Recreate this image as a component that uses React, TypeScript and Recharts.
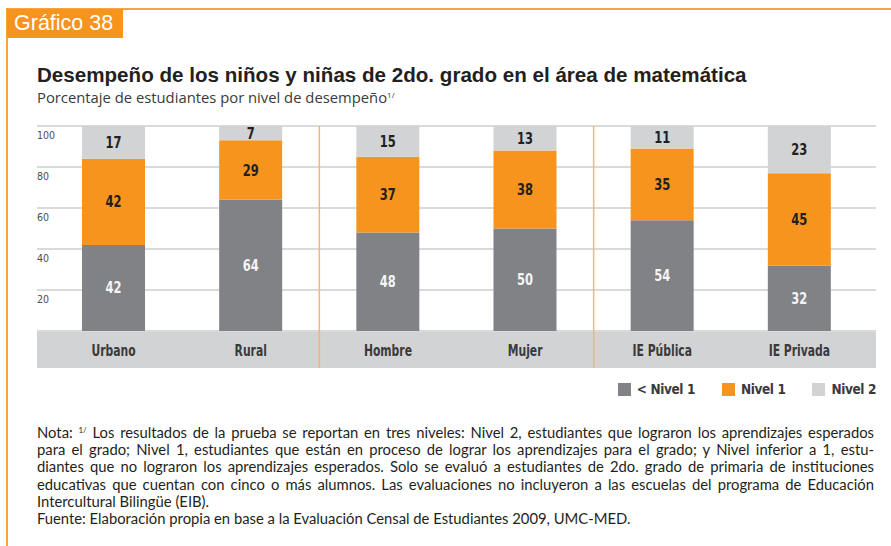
import React from "react";
import { Bar, BarChart, CartesianGrid, LabelList, ReferenceLine, XAxis, YAxis } from "recharts";

const CATEGORIES = ["Urbano", "Rural", "Hombre", "Mujer", "IE Pública", "IE Privada"];
const BELOW_NIVEL1 = [42, 64, 48, 50, 54, 32];
const NIVEL1 = [42, 29, 37, 38, 35, 45];
const NIVEL2 = [17, 7, 15, 13, 11, 23];
const Y_TICKS = [0, 20, 40, 60, 80, 100];
// group separators sit at the start of these categories
const GROUP_STARTS = ["Hombre", "IE Pública"];

const SERIES = [
  { key: "below", name: "< Nivel 1", color: "#808285", text: "#f4f4f4" },
  { key: "n1", name: "Nivel 1", color: "#f7941d", text: "#231f20" },
  { key: "n2", name: "Nivel 2", color: "#d1d3d4", text: "#231f20" },
];

const data = CATEGORIES.map((c, i) => ({
  cat: c,
  below: BELOW_NIVEL1[i],
  n1: NIVEL1[i],
  n2: NIVEL2[i],
}));

const ORANGE = "#f7941d";
const NARROW = "'DejaVu Sans', sans-serif";
const SANS = "'Lato', 'Liberation Sans', sans-serif";

const PLOT_LEFT = 37;
const PLOT_RIGHT = 876;
const BAND_H = 37;
const AXIS_W = 30;

function YTick({ x, y, payload }: any) {
  if (payload.value === 0) return null;
  return (
    <text x={x} y={y + 13} fontSize={10.5} fontFamily={NARROW} style={{ fontStretch: "condensed" }} fill="#4d4d4f" textAnchor="start">
      {payload.value}
    </text>
  );
}

function XTick({ x, y, payload }: any) {
  return (
    <text
      transform={`translate(${x},${y + 25}) scale(0.8,1)`}
      fontSize={15}
      fontWeight="bold"
      fontFamily={NARROW}
      style={{ fontStretch: "condensed" }}
      fill="#3a3a3c"
      textAnchor="middle"
    >
      {payload.value}
    </text>
  );
}

function makeLabel(fill: string) {
  return (props: any) => {
    const { x, y, width, height, value } = props;
    const cx = Number(x) + Number(width) / 2;
    const cy = Number(y) + Number(height) / 2 + 5.5;
    return (
      <text
        transform={`translate(${cx},${cy}) scale(0.8,1)`}
        fontSize={16}
        fontWeight="bold"
        fontFamily={NARROW}
        style={{ fontStretch: "condensed" }}
        fill={fill}
        textAnchor="middle"
      >
        {value}
      </text>
    );
  };
}

function Separator(props: any) {
  const { x1, y1, y2 } = props;
  const top = Math.min(y1, y2);
  const bottom = Math.max(y1, y2) + BAND_H;
  return <line x1={x1} x2={x1} y1={top} y2={bottom} stroke="#f9b56b" strokeWidth={1.5} />;
}

const noteLine: React.CSSProperties = { textAlign: "justify", textAlignLast: "justify", whiteSpace: "nowrap" };
const supStyle: React.CSSProperties = { fontSize: 8, position: "relative", top: -5, lineHeight: 0 };

export default function App() {
  return (
    <div style={{ position: "absolute", left: 0, top: 0, width: 891, height: 546, background: "#fff", overflow: "hidden", fontFamily: SANS }}>
      {/* frame */}
      <div style={{ position: "absolute", left: 7, top: 8, width: 884, height: 2, background: ORANGE, opacity: 0.85 }} />
      <div style={{ position: "absolute", left: 6, top: 8, width: 2, height: 538, background: ORANGE, opacity: 0.85 }} />
      <div style={{ position: "absolute", left: 7, top: 9, width: 116, height: 29, background: ORANGE, color: "#fff", fontSize: 21.5, lineHeight: "29px", paddingLeft: 7, boxSizing: "border-box", fontFamily: "'Liberation Sans', sans-serif" }}>
        Gráfico 38
      </div>

      <div style={{ position: "absolute", left: 37, top: 63, fontSize: 20.6, fontWeight: "bold", color: "#231f20", fontFamily: "'Liberation Sans', sans-serif", whiteSpace: "nowrap" }}>
        Desempeño de los niños y niñas de 2do. grado en el área de matemática
      </div>
      <div style={{ position: "absolute", left: 37, top: 87, fontSize: 14.8, color: "#3a3a3c", fontFamily: "'Open Sans', sans-serif", whiteSpace: "nowrap" }}>
        Porcentaje de estudiantes por nivel de desempeño<span style={supStyle}>1/</span>
      </div>

      {/* category band under the plot */}
      <div style={{ position: "absolute", left: PLOT_LEFT, top: 331, width: PLOT_RIGHT - PLOT_LEFT, height: BAND_H, background: "#d1d3d4" }} />

      <div style={{ position: "absolute", left: 0, top: 110 }}>
        <BarChart
          width={891}
          height={16 + 205 + BAND_H}
          data={data}
          margin={{ top: 16, right: 891 - PLOT_RIGHT, left: PLOT_LEFT - AXIS_W, bottom: 0 }}
          barSize={63}
        >
          <CartesianGrid vertical={false} stroke="#d9dadb" strokeWidth={2} />
          <XAxis
            dataKey="cat"
            axisLine={false}
            tickLine={false}
            tickSize={0}
            tickMargin={0}
            height={BAND_H}
            interval={0}
            padding={{ left: 8, right: 8 }}
            tick={<XTick />}
          />
          <YAxis
            width={AXIS_W}
            domain={[0, 100]}
            ticks={Y_TICKS}
            allowDataOverflow
            axisLine={false}
            tickLine={false}
            tickSize={0}
            tickMargin={0}
            tick={<YTick />}
          />
          {SERIES.map((s) => (
            <Bar key={s.key} dataKey={s.key} name={s.name} stackId="a" fill={s.color} isAnimationActive={false}>
              <LabelList dataKey={s.key} content={makeLabel(s.text)} />
            </Bar>
          ))}
          {GROUP_STARTS.map((g) => (
            <ReferenceLine key={g} x={g} position="start" shape={<Separator />} />
          ))}
        </BarChart>
      </div>

      {/* legend */}
      <div style={{ position: "absolute", right: 891 - PLOT_RIGHT, top: 381, display: "flex", gap: 27, fontFamily: NARROW, fontStretch: "condensed", fontSize: 13.5, letterSpacing: -0.4, fontWeight: "bold", color: "#3a3a3c" }}>
        {SERIES.map((s) => (
          <div key={s.key} style={{ display: "flex", alignItems: "center", gap: 6 }}>
            <span style={{ width: 13, height: 13, background: s.color, display: "inline-block" }} />
            <span>{s.name}</span>
          </div>
        ))}
      </div>

      {/* notes */}
      <div style={{ position: "absolute", left: 37, top: 424, width: 837, fontSize: 14.8, lineHeight: "17.2px", color: "#231f20" }}>
        <div style={noteLine}>
          Nota: <span style={supStyle}>1/</span> Los resultados de la prueba se reportan en tres niveles: Nivel 2, estudiantes que lograron los aprendizajes esperados
        </div>
        <div style={noteLine}>
          para el grado; Nivel 1, estudiantes que están en proceso de lograr los aprendizajes para el grado; y Nivel inferior a 1, estu-
        </div>
        <div style={noteLine}>
          diantes que no lograron los aprendizajes esperados. Solo se evaluó a estudiantes de 2do. grado de primaria de instituciones
        </div>
        <div style={noteLine}>
          educativas que cuentan con cinco o más alumnos. Las evaluaciones no incluyeron a las escuelas del programa de Educación
        </div>
        <div>Intercultural Bilingüe (EIB).</div>
        <div>Fuente: Elaboración propia en base a la Evaluación Censal de Estudiantes 2009, UMC-MED.</div>
      </div>
    </div>
  );
}
